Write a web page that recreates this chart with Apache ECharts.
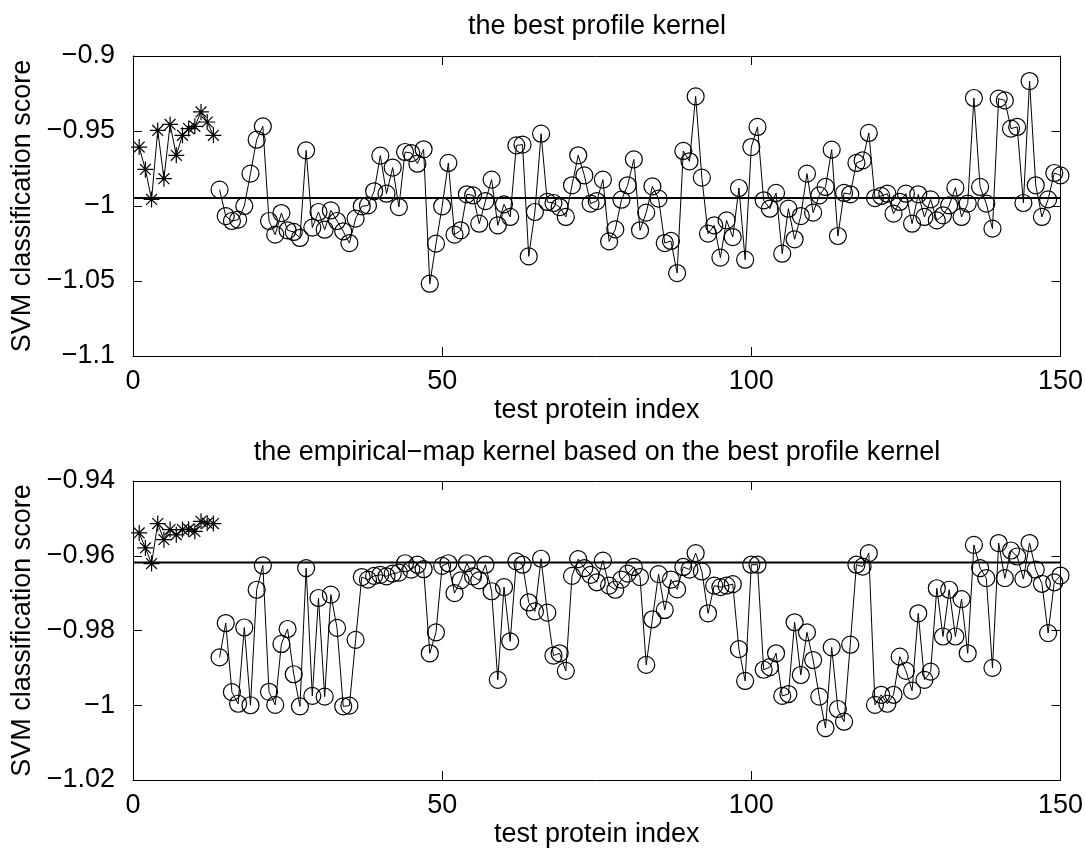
<!DOCTYPE html>
<html>
<head>
<meta charset="utf-8">
<title>SVM classification scores</title>
<script src="https://cdn.jsdelivr.net/npm/echarts@6/dist/echarts.min.js"></script>
<style>
  html, body { margin: 0; padding: 0; background: #fff; }
  #chart { width: 1086px; height: 854px; }
</style>
</head>
<body>
<div id="chart"></div>
<script>
// Scores of the test proteins; indices 1..13 are drawn with stars, 14..150 with circles.
const starIndexStart = 1;
const circleIndexStart = 14;

// Upper panel: best profile kernel
const topStarScores = [-0.9607, -0.9756, -0.9956, -0.9496, -0.9818, -0.9456, -0.9662, -0.9529, -0.9484, -0.9469, -0.9373, -0.9440, -0.9529];
const topCircleScores = [
  -0.9891, -1.0067, -1.0100, -1.0091, -1.0000, -0.9784, -0.9558, -0.9469, -1.0100, -1.0191,
  -1.0047, -1.0162, -1.0173, -1.0213, -0.9629, -1.0144, -1.0040, -1.0158, -1.0029, -1.0100,
  -1.0169, -1.0247, -1.0084, -1.0002, -0.9996, -0.9902, -0.9664, -0.9918, -0.9744, -1.0007,
  -0.9640, -0.9647, -0.9718, -0.9622, -1.0518, -1.0251, -1.0002, -0.9713, -1.0191, -1.0162,
  -0.9922, -0.9929, -1.0118, -0.9967, -0.9824, -1.0129, -0.9989, -1.0073, -0.9596, -0.9591,
  -1.0336, -1.0040, -0.9518, -0.9973, -0.9980, -1.0007, -1.0073, -0.9862, -0.9662, -0.9796,
  -0.9984, -0.9967, -0.9824, -1.0236, -1.0156, -0.9958, -0.9862, -0.9689, -1.0162, -1.0044,
  -0.9869, -0.9951, -1.0247, -1.0233, -1.0447, -0.9633, -0.9702, -0.9269, -0.9811, -1.0184,
  -1.0129, -1.0344, -1.0096, -1.0207, -0.9880, -1.0358, -0.9607, -0.9473, -0.9962, -1.0018,
  -0.9913, -1.0318, -1.0018, -1.0222, -1.0067, -0.9784, -1.0044, -0.9929, -0.9873, -0.9624,
  -1.0200, -0.9913, -0.9922, -0.9713, -0.9696, -0.9513, -0.9947, -0.9933, -0.9918, -1.0051,
  -0.9973, -0.9918, -1.0118, -0.9922, -1.0073, -0.9956, -1.0096, -1.0062, -0.9996, -0.9878,
  -1.0073, -0.9984, -0.9280, -0.9873, -0.9984, -1.0151, -0.9284, -0.9296, -0.9484, -0.9473,
  -0.9980, -0.9167, -0.9862, -1.0073, -0.9956, -0.9780, -0.9796
];
const topThreshold = -0.9947;

// Lower panel: empirical-map kernel
const bottomStarScores = [-0.9539, -0.9579, -0.9621, -0.9514, -0.9557, -0.9530, -0.9544, -0.9530, -0.9529, -0.9535, -0.9508, -0.9513, -0.9514];
const bottomCircleScores = [
  -0.9872, -0.9780, -0.9965, -0.9996, -0.9792, -1.0000, -0.9691, -0.9626, -0.9964, -0.9999,
  -0.9836, -0.9796, -0.9917, -1.0003, -0.9633, -0.9975, -0.9713, -0.9977, -0.9704, -0.9793,
  -1.0003, -1.0001, -0.9825, -0.9657, -0.9664, -0.9654, -0.9651, -0.9655, -0.9648, -0.9645,
  -0.9620, -0.9637, -0.9624, -0.9636, -0.9861, -0.9805, -0.9627, -0.9620, -0.9700, -0.9666,
  -0.9620, -0.9655, -0.9666, -0.9624, -0.9695, -0.9932, -0.9684, -0.9829, -0.9615, -0.9624,
  -0.9725, -0.9749, -0.9608, -0.9752, -0.9867, -0.9861, -0.9908, -0.9654, -0.9609, -0.9633,
  -0.9651, -0.9671, -0.9613, -0.9680, -0.9691, -0.9664, -0.9648, -0.9630, -0.9657, -0.9892,
  -0.9770, -0.9649, -0.9745, -0.9664, -0.9690, -0.9630, -0.9637, -0.9593, -0.9642, -0.9754,
  -0.9680, -0.9684, -0.9680, -0.9676, -0.9850, -0.9935, -0.9624, -0.9624, -0.9905, -0.9898,
  -0.9861, -0.9975, -0.9970, -0.9778, -0.9919, -0.9805, -0.9879, -0.9977, -1.0061, -0.9845,
  -1.0010, -1.0044, -0.9838, -0.9624, -0.9629, -0.9593, -0.9999, -0.9972, -0.9996, -0.9972,
  -0.9870, -0.9908, -0.9961, -0.9754, -0.9932, -0.9910, -0.9687, -0.9816, -0.9691, -0.9816,
  -0.9716, -0.9861, -0.9571, -0.9633, -0.9660, -0.9900, -0.9566, -0.9660, -0.9586, -0.9602,
  -0.9662, -0.9566, -0.9637, -0.9675, -0.9807, -0.9671, -0.9653
];
const bottomThreshold = -0.9618;

// Axis ranges and tick steps
const xRange = [0, 150];
const xStep = 50;
const topYRange = [-1.1, -0.9];
const topYStep = 0.05;
const bottomYRange = [-1.02, -0.94];
const bottomYStep = 0.02;

const panelTitles = [
  'the best profile kernel',
  'the empirical\u2212map kernel based on the best profile kernel'
];
const xName = 'test protein index';
const yName = 'SVM classification score';

const FONT = '"Liberation Sans", Arial, Helvetica, sans-serif';
const FONT_SIZE = 27;
const INK = '#000';

function toPoints(values, start) {
  return values.map((v, k) => [start + k, v]);
}

function tickText(v) {
  const s = String(parseFloat(Number(v).toFixed(4)));
  return s.replace('-', '\u2212');
}

const gridBoxes = [
  { left: 133, top: 56, width: 928, height: 300 },
  { left: 133, top: 481, width: 928, height: 299 }
];

const tickStyle = { show: true, inside: true, length: 9, lineStyle: { color: INK, width: 1 } };
const lineStyleAxis = { show: true, onZero: false, lineStyle: { color: INK, width: 1 } };
const textStyle = { color: INK, fontFamily: FONT, fontSize: FONT_SIZE };

function xAxes(gridIndex) {
  return [
    {
      type: 'value', gridIndex, position: 'bottom',
      min: xRange[0], max: xRange[1], interval: xStep,
      axisLine: lineStyleAxis, axisTick: tickStyle, splitLine: { show: false },
      axisLabel: { ...textStyle, margin: 12, formatter: tickText },
      name: xName, nameLocation: 'middle', nameGap: 41,
      nameTextStyle: textStyle
    },
    {
      type: 'value', gridIndex, position: 'top',
      min: xRange[0], max: xRange[1], interval: xStep,
      axisLine: lineStyleAxis, axisTick: tickStyle, splitLine: { show: false },
      axisLabel: { show: false }
    }
  ];
}

function yAxes(gridIndex, range, step) {
  return [
    {
      type: 'value', gridIndex, position: 'left',
      min: range[0], max: range[1], interval: step,
      axisLine: lineStyleAxis, axisTick: tickStyle, splitLine: { show: false },
      axisLabel: { ...textStyle, margin: 18, formatter: tickText },
      name: yName, nameLocation: 'middle', nameGap: 92, nameRotate: 90,
      nameTextStyle: textStyle
    },
    {
      type: 'value', gridIndex, position: 'right',
      min: range[0], max: range[1], interval: step,
      axisLine: lineStyleAxis, axisTick: tickStyle, splitLine: { show: false },
      axisLabel: { show: false }
    }
  ];
}

const starSymbol = 'path://M0,5L10,5M5,0L5,10M1.6,1.6L8.4,8.4M8.4,1.6L1.6,8.4';

function starSeries(values, axisIdx) {
  return {
    type: 'line',
    xAxisIndex: axisIdx.x, yAxisIndex: axisIdx.y,
    data: toPoints(values, starIndexStart),
    symbol: starSymbol, symbolSize: 16, showAllSymbol: true,
    itemStyle: { color: 'rgba(0,0,0,0)', borderColor: INK, borderWidth: 1.2 },
    lineStyle: { color: INK, width: 1 },
    emphasis: { disabled: true },
    z: 3
  };
}

function circleSeries(values, axisIdx) {
  return {
    type: 'line',
    xAxisIndex: axisIdx.x, yAxisIndex: axisIdx.y,
    data: toPoints(values, circleIndexStart),
    symbol: 'circle', symbolSize: 17, showAllSymbol: true,
    itemStyle: { color: 'rgba(0,0,0,0)', borderColor: INK, borderWidth: 1.2 },
    lineStyle: { color: INK, width: 1 },
    emphasis: { disabled: true },
    z: 3
  };
}

// Horizontal reference level across the whole index range
function thresholdSeries(value, axisIdx) {
  return {
    type: 'line',
    xAxisIndex: axisIdx.x, yAxisIndex: axisIdx.y,
    data: [[xRange[0], value], [xRange[1], value]],
    symbol: 'none',
    lineStyle: { color: INK, width: 2 },
    emphasis: { disabled: true },
    silent: true,
    z: 2
  };
}

const option = {
  animation: false,
  backgroundColor: '#fff',
  grid: gridBoxes,
  xAxis: [...xAxes(0), ...xAxes(1)],
  yAxis: [...yAxes(0, topYRange, topYStep), ...yAxes(1, bottomYRange, bottomYStep)],
  graphic: [
    {
      type: 'text', x: 597, y: 27,
      style: { text: panelTitles[0], fill: INK, font: FONT_SIZE + 'px ' + FONT, textAlign: 'center', textVerticalAlign: 'middle' }
    },
    {
      type: 'text', x: 597, y: 453,
      style: { text: panelTitles[1], fill: INK, font: FONT_SIZE + 'px ' + FONT, textAlign: 'center', textVerticalAlign: 'middle' }
    }
  ],
  series: [
    thresholdSeries(topThreshold, { x: 0, y: 0 }),
    starSeries(topStarScores, { x: 0, y: 0 }),
    circleSeries(topCircleScores, { x: 0, y: 0 }),
    thresholdSeries(bottomThreshold, { x: 2, y: 2 }),
    starSeries(bottomStarScores, { x: 2, y: 2 }),
    circleSeries(bottomCircleScores, { x: 2, y: 2 })
  ]
};

const chart = echarts.init(document.getElementById('chart'), null, { renderer: 'canvas' });
chart.setOption(option);
</script>
</body>
</html>
